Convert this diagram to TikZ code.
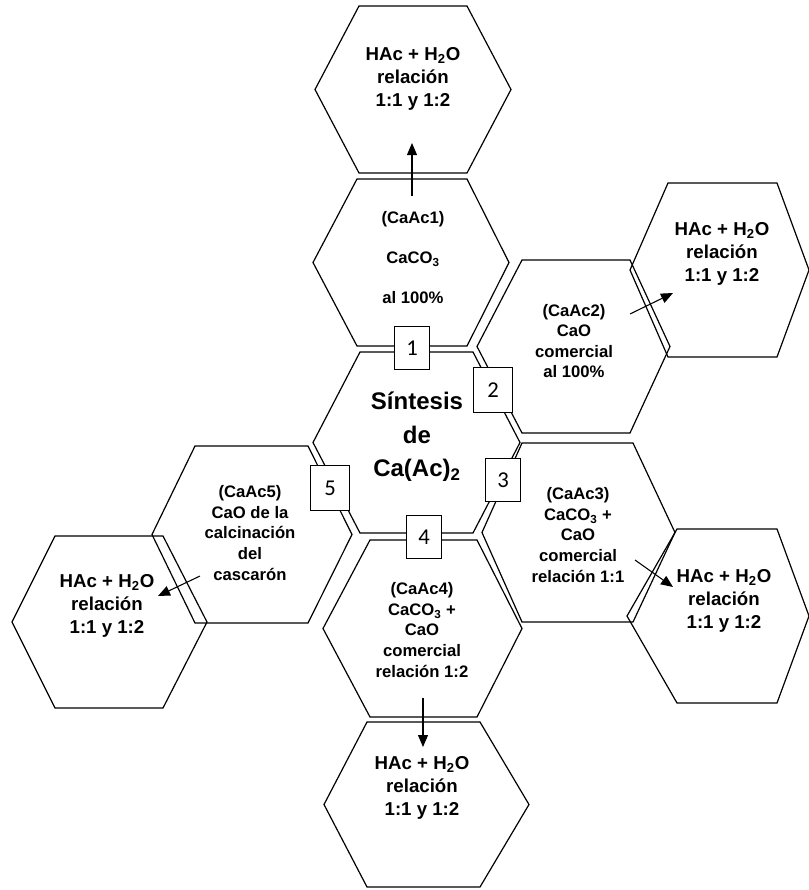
\documentclass[tikz,border=0pt]{standalone}
\usepackage{fontspec}
\setmainfont{Liberation Sans}
\newfontfamily\numfont{Carlito}
\usetikzlibrary{arrows.meta}
% hexagon: name, x left, x top-left, x top-right, x right, y top, y bottom
\newcommand{\hexa}[7]{%
  \draw[hexline] (#2,{(#6+#7)/2}) -- (#3,#6) -- (#4,#6) -- (#5,{(#6+#7)/2}) -- (#4,#7) -- (#3,#7) -- cycle;
  \coordinate (#1) at ({(#2+#5)/2},{(#6+#7)/2});}

\begin{document}
\begin{tikzpicture}[x=0.75pt,y=-0.75pt,
  hexline/.style={line width=0.9pt},
  hac/.style={align=center, inner sep=0pt, font=\fontsize{14pt}{17pt}\selectfont\bfseries},
  caac/.style={align=center, inner sep=0pt, font=\fontsize{12.5pt}{15.4pt}\selectfont\bfseries},
  num/.style={draw, fill=white, line width=0.9pt, minimum width=26pt, minimum height=32pt, inner sep=0pt, font=\numfont\fontsize{17pt}{17pt}\selectfont},
  arr/.style={-{Triangle[width=7.5pt,length=9pt]}, line width=0.8pt}]
  \useasboundingbox (0,0) rectangle (808,890);

  % Centre
  \hexa{hex-c}{313}{360}{473}{520}{352}{533}
  % First ring
  \hexa{hex-1}{313}{357}{467}{509}{179}{346}
  \hexa{hex-2}{477}{522}{630}{670}{260}{433}
  \hexa{hex-3}{482}{522}{633}{675}{443}{622}
  \hexa{hex-4}{323}{370}{477}{522}{540}{717}
  \hexa{hex-5}{152}{195}{308}{352}{446}{623}
  % Outer ring
  \hexa{hac-1}{315}{359}{467}{511}{6}{173}
  \hexa{hac-2}{630}{668}{777}{809}{183}{357}
  \hexa{hac-3}{627}{677}{777}{809}{529}{703}
  \hexa{hac-4}{324}{367}{480}{529}{722}{887}
  \hexa{hac-5}{12}{55}{163}{207}{536}{708}

  % Numbers
  \node[num] (num-1) at (412,348) {1};
  \node[num, minimum width=29pt, minimum height=34pt] (num-2) at (493,390) {2};
  \node[num] (num-3) at (503,480) {3};
  \node[num] (num-4) at (424,537) {4};
  \node[num, minimum width=29pt, minimum height=34pt] (num-5) at (330,488) {5};

  % Texts
  \node[align=center, font=\fontsize{18pt}{25pt}\selectfont\bfseries] (txt-c) at (417,437) {Síntesis\\de\\Ca(Ac)\textsubscript{2}};
  \node[caac, font=\fontsize{12.5pt}{30pt}\selectfont\bfseries] (txt-1) at (413,258) {(CaAc1)\\CaCO\textsubscript{3}\\al 100\%};
  \node[caac] (txt-2) at (574,341) {(CaAc2)\\CaO\\comercial\\al 100\%};
  \node[caac] (txt-3) at (578,535) {(CaAc3)\\CaCO\textsubscript{3} +\\CaO\\comercial\\relación 1:1};
  \node[caac] (txt-4) at (422,630) {(CaAc4)\\CaCO\textsubscript{3} +\\CaO\\comercial\\relación 1:2};
  \node[caac] (txt-5) at (250,533) {(CaAc5)\\CaO de la\\calcinación\\del\\cascarón};
  \node[hac] (hac-txt-1) at (413,79) {HAc + H\textsubscript{2}O\\relación\\1:1 y 1:2};
  \node[hac] (hac-txt-2) at (722,254) {HAc + H\textsubscript{2}O\\relación\\1:1 y 1:2};
  \node[hac] (hac-txt-3) at (724,601) {HAc + H\textsubscript{2}O\\relación\\1:1 y 1:2};
  \node[hac] (hac-txt-4) at (422,788) {HAc + H\textsubscript{2}O\\relación\\1:1 y 1:2};
  \node[hac] (hac-txt-5) at (107,606) {HAc + H\textsubscript{2}O\\relación\\1:1 y 1:2};

  % Arrows
  \coordinate (from-1) at (412,196);  \coordinate (to-1) at (412,143);
  \coordinate (from-2) at (630,314);  \coordinate (to-2) at (673,293);
  \coordinate (from-3) at (635,560);  \coordinate (to-3) at (673,587);
  \coordinate (from-4) at (423,698);  \coordinate (to-4) at (423,747);
  \coordinate (from-5) at (200,576);  \coordinate (to-5) at (158,596);
  \draw[arr] (from-1) -- (to-1);
  \draw[arr] (from-2) -- (to-2);
  \draw[arr] (from-3) -- (to-3);
  \draw[arr] (from-4) -- (to-4);
  \draw[arr] (from-5) -- (to-5);
\end{tikzpicture}
\end{document}
